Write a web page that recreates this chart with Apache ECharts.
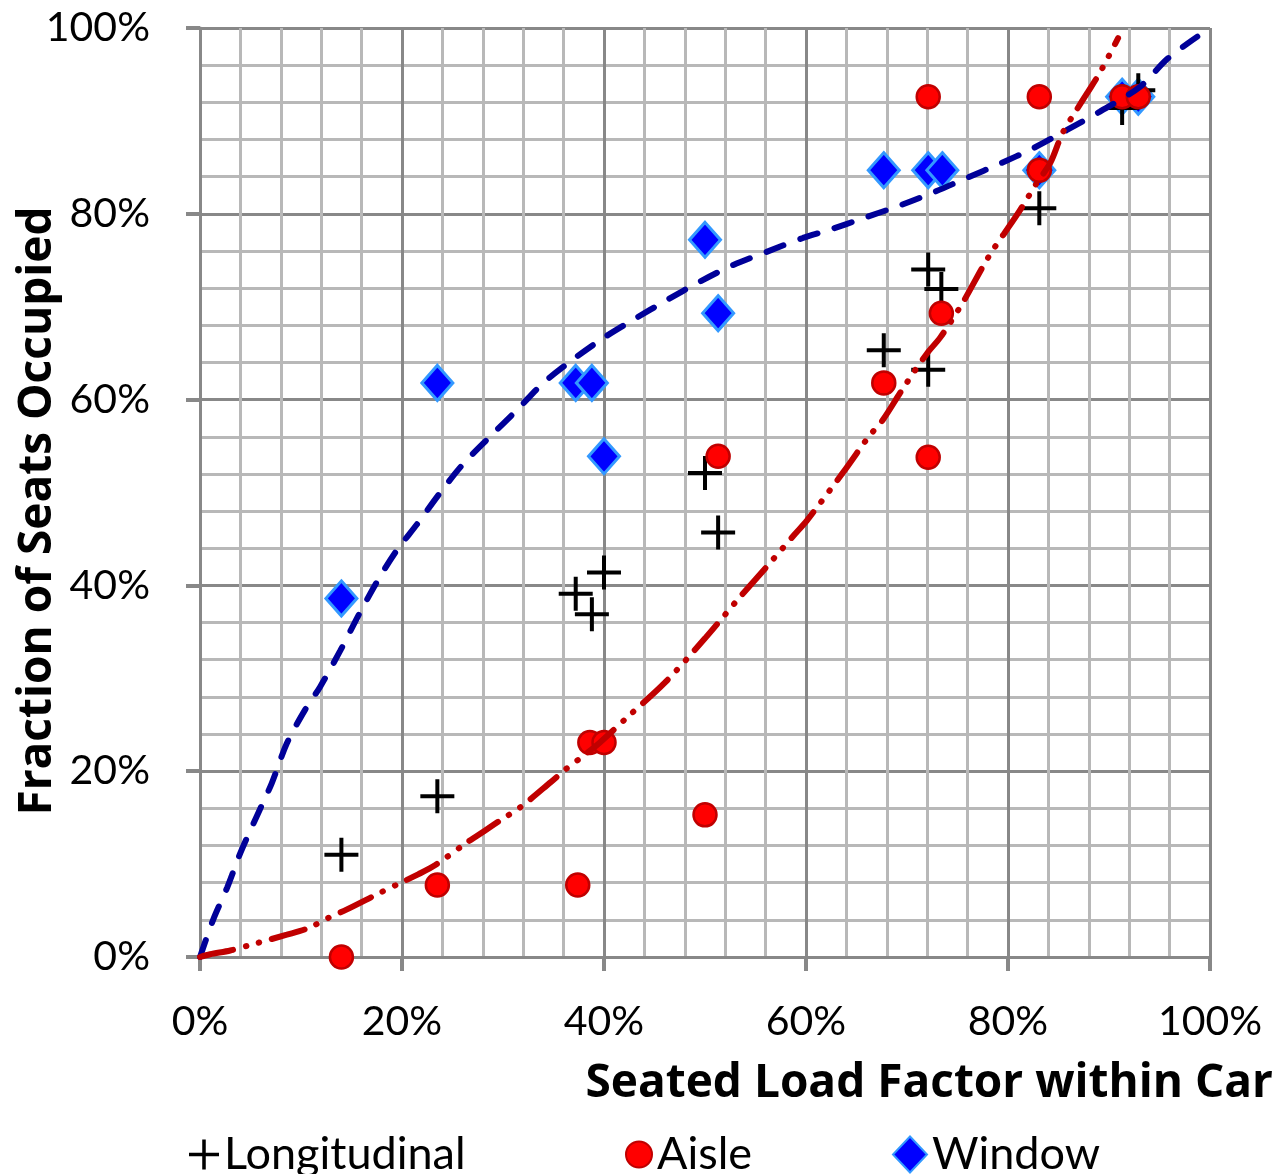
<!DOCTYPE html>
<html>
<head>
<meta charset="utf-8">
<script src="https://cdn.jsdelivr.net/npm/echarts@6/dist/echarts.min.js"></script>
<style>
  html, body { margin: 0; padding: 0; background: #fff; }
  #chart { width: 1286px; height: 1174px; }
</style>
</head>
<body>
<div id="chart"></div>
<script>
// Seat-type occupancy versus seated load factor (all values in percent)
const loadFactorLong = [14.0, 23.5, 37.2, 38.8, 40.0, 50.0, 51.3, 67.7, 72.1, 73.4, 72.1, 83.1, 91.3, 92.9];
const occupiedLong   = [11.0, 17.3, 39.1, 36.9, 41.4, 52.1, 45.7, 65.3, 74.0, 71.9, 63.2, 80.6, 91.4, 93.3];

const loadFactorAisle = [14.0, 23.5, 37.4, 38.6, 40.0, 50.0, 51.3, 67.7, 72.1, 72.1, 73.4, 83.1, 83.1, 91.3, 92.9];
const occupiedAisle   = [0.0, 7.75, 7.75, 23.1, 23.1, 15.3, 53.9, 61.8, 92.6, 53.8, 69.3, 92.6, 84.7, 92.6, 92.6];

const loadFactorWindow = [14.0, 23.5, 37.2, 38.8, 40.0, 50.0, 51.3, 67.7, 72.1, 73.5, 83.1, 91.3, 92.9];
const occupiedWindow   = [38.6, 61.8, 61.8, 61.8, 53.9, 77.2, 69.3, 84.7, 84.7, 84.7, 84.7, 92.6, 92.6];

// Fitted trend curves, sampled along each line
const windowTrendX = [0, 1.3, 2.7, 4, 5.6, 7.1, 8.6, 10.4, 11.9, 13.9, 15.8, 17.8, 19.5, 21.5, 23.8, 26, 28.7, 31.4, 34, 36.9, 39.9, 42.9, 46.2, 49.5, 52.8, 56.1, 59.7, 62.1, 65.6, 69.3, 72.6, 76, 79.2, 82.4, 85.8, 89.1, 93.1, 95.7, 98, 100];
const windowTrendY = [0, 4, 7.5, 11.2, 15.1, 18.7, 23, 26.6, 29.1, 33, 37, 40.9, 43.8, 46.6, 50.0, 53.0, 56, 58.9, 61.8, 64.3, 66.6, 68.6, 70.7, 72.7, 74.5, 75.9, 77.4, 78.2, 79.5, 80.9, 82.3, 83.9, 85.4, 87, 89, 91, 93.7, 96.6, 98.5, 100];

const aisleTrendX = [0, 1, 3, 5, 8.6, 10.7, 12.7, 14.5, 17.8, 19.7, 21.6, 23.3, 26.4, 28.2, 30, 31.7, 34.7, 36.2, 37.9, 39.6, 42.3, 46, 50, 53.5, 56.1, 58.8, 60.1, 63.7, 66.2, 67.6, 69.6, 72, 73.3, 75.5, 77.5, 78.5, 80.9, 82.9, 84.2, 85.4, 86.8, 87.9, 89.1, 90.9];
const aisleTrendY = [0, 0.3, 0.7, 1.3, 2.4, 3.1, 4.2, 5.1, 6.9, 7.9, 8.9, 9.9, 12.3, 13.6, 14.9, 16.1, 18.8, 20.2, 21.6, 23.1, 25.8, 29.5, 34.3, 38.8, 42.0, 45.4, 47, 52.2, 56, 57.8, 61.2, 65, 66.7, 70.4, 74.3, 76.1, 79.9, 83.4, 85.5, 88.7, 91.2, 93.1, 95.2, 98.9];

const axisTicks = [0, 20, 40, 60, 80, 100];

const pairs = (xs, ys) => xs.map((x, i) => [x, ys[i]]);

const FONT = 'Lato, "Open Sans", "Liberation Sans", sans-serif';
const TITLE_FONT = '"Open Sans", Lato, "Liberation Sans", sans-serif';
const plusPath = 'path://M0,15 H15 V0 H19 V15 H34 V19 H19 V34 H15 V19 H0 Z';

const axisCommon = {
  type: 'value',
  min: axisTicks[0],
  max: axisTicks[axisTicks.length - 1],
  interval: 20,
  axisLine: { show: true, lineStyle: { color: '#888888', width: 3 } },
  axisTick: { show: true, inside: false, length: 14, lineStyle: { color: '#888888', width: 4 } },
  minorTick: { show: false, splitNumber: 5 },
  splitLine: { show: true, lineStyle: { color: '#888888', width: 3 } },
  minorSplitLine: { show: true, lineStyle: { color: '#b8b8b8', width: 3 } },
  axisLabel: {
    formatter: v => v + '%',
    fontFamily: FONT,
    fontSize: 41,
    color: '#000'
  }
};

const legendBase = {
  orient: 'horizontal',
  itemGap: 8,
  textStyle: { fontFamily: FONT, fontSize: 45, color: '#000', padding: [0, 0, 0, 0] }
};

const chart = echarts.init(document.getElementById('chart'), null, { renderer: 'canvas' });

chart.setOption({
  animation: false,
  backgroundColor: '#ffffff',
  grid: { left: 200, top: 28, width: 1010, height: 929 },
  xAxis: Object.assign({}, axisCommon, {
    axisLabel: Object.assign({}, axisCommon.axisLabel, { margin: 44 })
  }),
  yAxis: Object.assign({}, axisCommon, {
    axisLabel: Object.assign({}, axisCommon.axisLabel, { margin: 50 })
  }),
  legend: [
    Object.assign({}, legendBase, { data: ['Longitudinal'], left: 184, top: 1127, itemWidth: 30, itemHeight: 30 }),
    Object.assign({}, legendBase, { data: ['Aisle'], left: 620, top: 1127, itemWidth: 26, itemHeight: 26 }),
    Object.assign({}, legendBase, { data: ['Window'], left: 887, top: 1127, itemWidth: 34, itemHeight: 36 })
  ],
  graphic: [
    {
      type: 'text',
      x: 38, y: 511,
      rotation: Math.PI / 2,
      style: {
        text: 'Fraction of Seats Occupied',
        font: 'bold 46px ' + TITLE_FONT,
        fill: '#000',
        textAlign: 'center',
        textVerticalAlign: 'middle'
      }
    },
    {
      type: 'text',
      x: 1273, y: 1084,
      style: {
        text: 'Seated Load Factor within Car',
        font: 'bold 46px ' + TITLE_FONT,
        fill: '#000',
        textAlign: 'right',
        textVerticalAlign: 'middle'
      }
    }
  ],
  series: [
    {
      name: 'Window',
      type: 'scatter',
      z: 2,
      symbol: 'diamond',
      symbolSize: [31, 35],
      itemStyle: { color: '#0000ff', borderColor: '#3399ff', borderWidth: 3, opacity: 1 },
      data: pairs(loadFactorWindow, occupiedWindow)
    },
    {
      name: 'Longitudinal',
      type: 'scatter',
      z: 3,
      symbol: plusPath,
      symbolSize: 34,
      itemStyle: { color: '#000000', opacity: 1 },
      data: pairs(loadFactorLong, occupiedLong)
    },
    {
      name: 'Aisle',
      type: 'scatter',
      z: 4,
      symbol: 'circle',
      symbolSize: 23,
      itemStyle: { color: '#ff0000', borderColor: '#c00000', borderWidth: 2.5, opacity: 1 },
      data: pairs(loadFactorAisle, occupiedAisle)
    },
    {
      name: 'Window trend',
      type: 'line',
      z: 5,
      showSymbol: false,
      smooth: 0.3,
      silent: true,
      lineStyle: { color: '#000099', width: 6, type: [18, 18], cap: 'round' },
      data: pairs(windowTrendX, windowTrendY)
    },
    {
      name: 'Aisle trend',
      type: 'line',
      z: 5,
      showSymbol: false,
      smooth: 0.3,
      silent: true,
      lineStyle: { color: '#c00000', width: 6, type: [34, 13, 0.5, 13, 0.5, 13], cap: 'round' },
      data: pairs(aisleTrendX, aisleTrendY)
    }
  ]
});
</script>
</body>
</html>
